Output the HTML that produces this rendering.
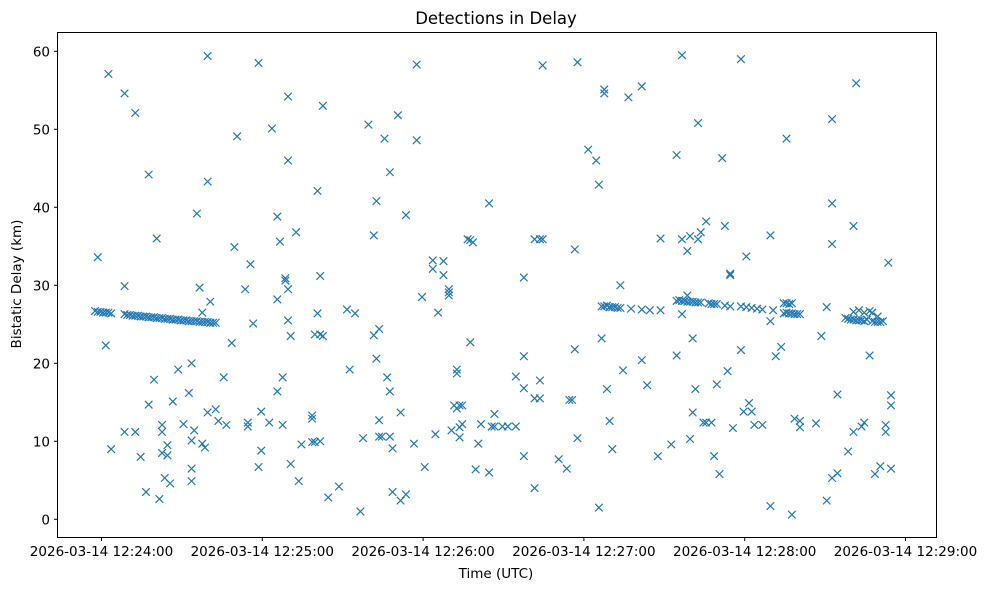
<!DOCTYPE html>
<html><head><meta charset="utf-8"><style>
body{margin:0;background:#fff;}
svg{display:block;font-family:"DejaVu Sans","Liberation Sans",sans-serif;}
</style></head><body>
<svg id="chart" width="986" height="590">
<rect x="0" y="0" width="986" height="590" fill="#fff"/>
<text x="496" y="24" font-size="16.5" text-anchor="middle">Detections in Delay</text>
<text x="496" y="578" font-size="13.5" text-anchor="middle">Time (UTC)</text>
<text transform="translate(21,284) rotate(-90)" font-size="13.5" text-anchor="middle">Bistatic Delay (km)</text>
<g id="marks"></g>
<g id="axes"></g>
<rect x="57.5" y="32.5" width="879" height="505" fill="none" stroke="#000" stroke-width="1"/>
</svg>
<script>
const xTickLabels=["2026-03-14 12:24:00","2026-03-14 12:25:00","2026-03-14 12:26:00","2026-03-14 12:27:00","2026-03-14 12:28:00","2026-03-14 12:29:00"];
const xTickSeconds=[0,60,120,180,240,300];
const yTickValues=[0,10,20,30,40,50,60];
// seconds after 12:23:58.6 (first detection epoch)
const epochOffset=-1.4;
const times=[0,4,10,14,19,22,3,5,10,10,14,16,19,21,18,23,24,24,24,25,26,26,27,28,30,32,34,35,35,35,35,36,37,38,39,39,40,41,41,42,41,44,45,47,48,50,51,52,55,56,56,57,58,60,60,61,61,64,65,67,67,67,68,69,69,70,70,71,71,71,71,72,72,74,75,76,80,80,80,81,82,82,81,83,83,84,83,84,86,90,93,94,96,98,99,101,103,103,104,104,105,105,105,106,107,108,109,109,109,110,110,112,113,113,115,115,118,119,119,121,122,125,125,126,127,129,129,131,131,131,132,133,134,134,134,135,135,135,136,136,138,139,140,139,141,142,143,146,146,147,148,148,151,153,156,156,159,159,159,159,163,163,163,165,165,166,165,166,172,175,176,177,178,178,179,179,183,186,187,187,188,189,189,190,191,191,192,195,196,198,203,203,205,209,210,214,216,216,218,218,218,220,220,221,221,222,223,222,224,224,225,226,227,227,229,230,231,232,233,234,235,236,236,237,240,240,241,242,243,244,245,248,251,251,251,253,255,257,259,260,262,262,268,270,272,272,274,274,274,274,276,276,280,282,282,283,285,286,288,290,292,294,294,295,296,296,296,
-1,0,1,2,3,4,5,10,11,12,13,14,15,16,17,18,19,20,21,22,23,24,25,26,27,28,29,30,31,32,33,34,35,36,37,38,39,40,41,42,43,44,
188,189,190,191,192,193,194,195,199,203,206,210,
216,217,218,219,220,221,222,223,224,225,228,229,230,231,234,236,240,242,244,246,248,252,256,257,258,259,256,257,258,259,260,261,262,
279,280,281,282,283,284,285,286,287,289,290,291,292,293,282,284,286,288,289,291];
const delays=[33.6,57.1,54.6,52.1,44.2,36.0,22.3,9.0,29.9,11.2,11.2,8.0,14.7,17.9,3.5,2.6,12.1,11.2,8.5,5.3,9.5,8.2,4.6,15.1,19.2,12.2,16.2,20.0,10.1,6.5,4.9,11.4,39.2,29.7,26.5,9.7,9.2,59.4,43.3,27.9,13.7,14.1,12.6,18.2,12.1,22.6,34.9,49.1,29.5,11.9,12.4,32.7,25.1,58.5,6.7,8.8,13.8,12.4,50.1,38.8,28.2,16.4,35.6,18.2,12.1,30.9,30.6,25.5,54.2,46.0,29.5,23.5,7.1,36.8,4.9,9.6,13.3,12.9,9.9,9.9,42.1,26.4,23.7,31.2,23.7,23.5,10.0,53.0,2.8,4.2,26.9,19.2,26.4,1.0,10.4,50.6,36.4,23.6,20.6,40.8,10.6,12.7,24.4,10.6,48.8,18.2,10.6,44.5,16.4,9.1,3.5,51.8,13.7,2.4,39.0,3.2,9.7,58.3,48.6,28.5,6.7,33.2,32.1,10.9,26.5,33.1,31.3,29.5,28.7,29.1,11.4,14.6,18.7,19.2,14.2,11.8,10.5,14.6,12.2,14.6,35.9,35.8,35.5,22.7,6.4,9.7,12.2,40.5,6.0,11.9,13.5,11.9,11.9,11.9,18.3,11.9,20.9,31.0,16.8,8.1,4.0,15.5,35.9,17.8,35.9,58.2,15.5,35.9,7.7,6.5,15.3,15.3,21.8,34.6,58.6,10.4,47.4,46.0,1.5,42.9,23.2,55.1,54.6,16.7,12.6,27.2,9.0,30.0,19.1,54.1,55.5,20.4,17.2,8.1,36.0,9.6,21.0,46.7,59.5,35.9,26.3,28.7,34.4,10.3,36.3,23.2,16.7,13.7,50.8,35.9,36.8,12.4,38.2,12.4,12.4,8.1,17.3,5.8,46.3,37.6,19.0,31.5,31.3,11.7,59.0,21.7,13.8,33.7,14.9,13.8,12.1,12.1,25.4,36.4,1.7,20.9,22.1,48.8,0.6,12.9,11.8,12.6,12.3,23.5,2.4,27.2,35.3,40.5,51.3,5.3,5.9,16.0,8.7,37.6,11.2,55.9,11.9,12.4,21.0,5.8,6.8,12.1,11.2,32.9,15.9,14.6,6.5,
26.7,26.6,26.6,26.5,26.5,26.5,26.4,26.3,26.2,26.2,26.1,26.1,26.1,26.0,26.0,26.0,25.9,25.9,25.9,25.8,25.8,25.8,25.7,25.7,25.7,25.6,25.6,25.6,25.5,25.5,25.5,25.4,25.4,25.4,25.4,25.3,25.3,25.3,25.3,25.2,25.2,25.2,
27.3,27.3,27.4,27.2,27.2,27.2,27.1,27.1,27.0,26.9,26.8,26.8,
28.0,28.1,28.0,28.0,27.9,27.9,27.9,27.8,27.8,27.8,27.7,27.6,27.6,27.6,27.4,27.3,27.3,27.2,27.1,27.0,26.9,26.8,27.7,27.7,27.6,27.7,26.4,26.5,26.4,26.4,26.3,26.3,26.3,
25.8,25.7,25.6,25.6,25.5,25.5,25.5,25.4,25.6,25.4,25.3,25.3,25.3,25.4,26.6,26.8,26.5,26.7,26.5,26.0];

const NS="http://www.w3.org/2000/svg";
function xScale(s){return 101.5+s*160.8/60;}
function yScale(v){return 519.3-v*7.8;}
const marks=document.getElementById('marks');
const axes=document.getElementById('axes');
const n=Math.min(times.length,delays.length);
for(let i=0;i<n;i++){
  const cx=xScale(times[i]+epochOffset),cy=yScale(delays[i]),r=3.8;
  const p=document.createElementNS(NS,'path');
  p.setAttribute('d',`M${cx-r},${cy-r}L${cx+r},${cy+r}M${cx-r},${cy+r}L${cx+r},${cy-r}`);
  p.setAttribute('stroke','#1f77b4');
  p.setAttribute('stroke-width','1.2');
  p.setAttribute('fill','none');
  
  
  marks.appendChild(p);
}
xTickSeconds.forEach((s,i)=>{
  const x=xScale(s);
  const l=document.createElementNS(NS,'line');
  l.setAttribute('x1',x);l.setAttribute('x2',x);l.setAttribute('y1',537.5);l.setAttribute('y2',541);
  l.setAttribute('stroke','#000');
  
  
  axes.appendChild(l);
  const t=document.createElementNS(NS,'text');
  t.setAttribute('x',x);t.setAttribute('y',556);t.setAttribute('font-size','13.5');t.setAttribute('text-anchor','middle');
  t.textContent=xTickLabels[i];
  
  
  axes.appendChild(t);
});
yTickValues.forEach(v=>{
  const y=yScale(v);
  const l=document.createElementNS(NS,'line');
  l.setAttribute('x1',54);l.setAttribute('x2',57.5);l.setAttribute('y1',y);l.setAttribute('y2',y);
  l.setAttribute('stroke','#000');
  
  
  axes.appendChild(l);
  const t=document.createElementNS(NS,'text');
  t.setAttribute('x',50);t.setAttribute('y',y+5);t.setAttribute('font-size','13.5');t.setAttribute('text-anchor','end');
  t.textContent=String(v);
  
  
  axes.appendChild(t);
});
</script>
</body></html>
